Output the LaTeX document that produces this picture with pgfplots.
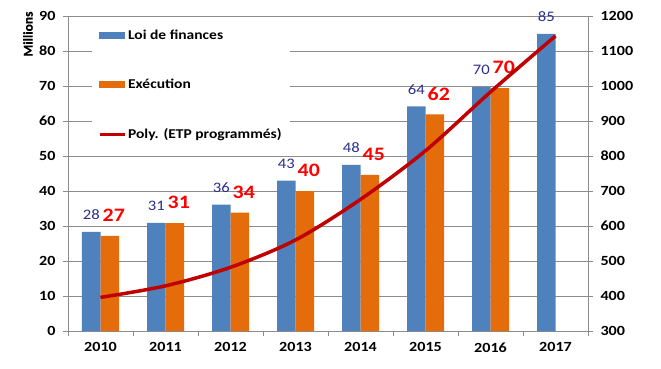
\documentclass[border=0pt]{standalone}
\usepackage{fontspec}
\setmainfont{Carlito}[FakeStretch=1.15]
\newfontfamily\millfont{Carlito}[UprightFont=*-Bold, FakeBold=0.3]
\usepackage{pgfplots}
\pgfplotsset{compat=1.18}
\usepackage{pgfplotstable}

\definecolor{barblue}{HTML}{4F81BD}
\definecolor{barorange}{HTML}{E46C0A}
\definecolor{trendred}{HTML}{C00000}
\definecolor{gridgray}{HTML}{8C8C8C}
\definecolor{lblblue}{HTML}{2B2E8C}
\definecolor{lblred}{HTML}{FF0000}

\pgfplotstableread{
x y lab
0 28.3 28
1 30.9 31
2 36.1 36
3 43.0 43
4 47.5 48
5 64.2 64
6 69.7 70
7 84.9 85
}\loitable

\pgfplotstableread{
x y lab
0 27.2 27
1 30.8 31
2 33.8 34
3 40.0 40
4 44.6 45
5 61.9 62
6 69.4 70
}\exectable

\pgfplotstableread{
x y
0 396
1 429
2 482
3 560
4 676
5 815
6 983
7 1143
}\trendtable

\newcommand{\tickfont}{\fontsize{14}{16}\selectfont\bfseries}
\newcommand{\legfont}{\fontsize{13.5}{15}\selectfont\bfseries}
\newcommand{\bluelbl}{\fontsize{14.5}{16}\selectfont}
\newcommand{\redlbl}{\fontsize{19}{21}\selectfont\bfseries}

\begin{document}
\begin{tikzpicture}[x=1pt,y=1pt]
\useasboundingbox (-68,-37) rectangle (593,331);
\begin{axis}[
  at={(0,0)}, anchor=south west,
  scale only axis, width=520pt, height=315pt,
  xmin=-0.5, xmax=7.5, ymin=0, ymax=90,
  ybar=0pt, bar width=18.5pt,
  xtick={-0.5,0.5,...,7.5},
  xticklabels={2010,2011,2012,2013,2014,2015,2016,2017,{}},
  xticklabel style={xshift=32.5pt, yshift=-3pt},
  ytick={0,10,...,90},
  axis x line*=bottom, axis y line*=left,
  every outer x axis line/.append style={-},
  every outer y axis line/.append style={-},
  axis line style={gridgray, line width=0.8pt},
  tick align=outside,
  major tick length=5pt,
  tick style={gridgray, line width=0.8pt},
  ymajorgrids, grid style={gridgray, line width=0.8pt},
  ticklabel style={font=\tickfont},
  /pgf/number format/assume math mode=true,
  /pgf/number format/1000 sep={},
  yticklabel style={xshift=-4pt},
  point meta=explicit symbolic,
]
\addplot[fill=barblue, draw=none, nodes near coords,
  every node near coord/.append style={font=\bluelbl, text=lblblue, anchor=south, inner sep=0pt, yshift=12pt}]
  table[x=x, y=y, meta=lab]{\loitable};
\addplot[fill=barorange, draw=none, nodes near coords,
  every node near coord/.append style={font=\redlbl, text=lblred, anchor=south, inner sep=0pt, yshift=14pt, xshift=4pt}]
  table[x=x, y=y, meta=lab]{\exectable};
\end{axis}

\begin{axis}[
  at={(0,0)}, anchor=south west,
  scale only axis, width=520pt, height=315pt,
  xmin=-0.5, xmax=7.5, ymin=300, ymax=1200,
  ytick={300,400,...,1200},
  axis x line=none, axis y line*=right,
  every outer y axis line/.append style={-},
  axis line style={gridgray, line width=0.8pt},
  tick align=outside, major tick length=5pt,
  tick style={gridgray, line width=0.8pt},
  ticklabel style={font=\tickfont},
  /pgf/number format/assume math mode=true,
  /pgf/number format/1000 sep={},
  yticklabel style={xshift=4pt},
  legend style={at={(0.046,0.98)}, anchor=north west, draw=none, fill=white,
    font=\legfont, row sep=34.5pt, inner xsep=6pt, inner ysep=5pt,
    cells={anchor=west}},
]
\addlegendimage{legend image code/.code={\fill[barblue] (0pt,-3pt) rectangle (25pt,3pt);}}
\addlegendentry{Loi de finances}
\addlegendimage{legend image code/.code={\fill[barorange] (0pt,-3pt) rectangle (25pt,3pt);}}
\addlegendentry{Exécution}
\addplot[trendred, line width=3.5pt, smooth, no marks,
  legend image code/.code={\draw[trendred, line width=3pt] (0pt,0pt) -- (25pt,0pt);}]
  table[x=x, y=y]{\trendtable};
\addlegendentry{Poly. (ETP programmés)}
\end{axis}
\node[rotate=90, font=\millfont\fontsize{13.5}{15}\selectfont] at (-40,297) {Millions};
\end{tikzpicture}
\end{document}
